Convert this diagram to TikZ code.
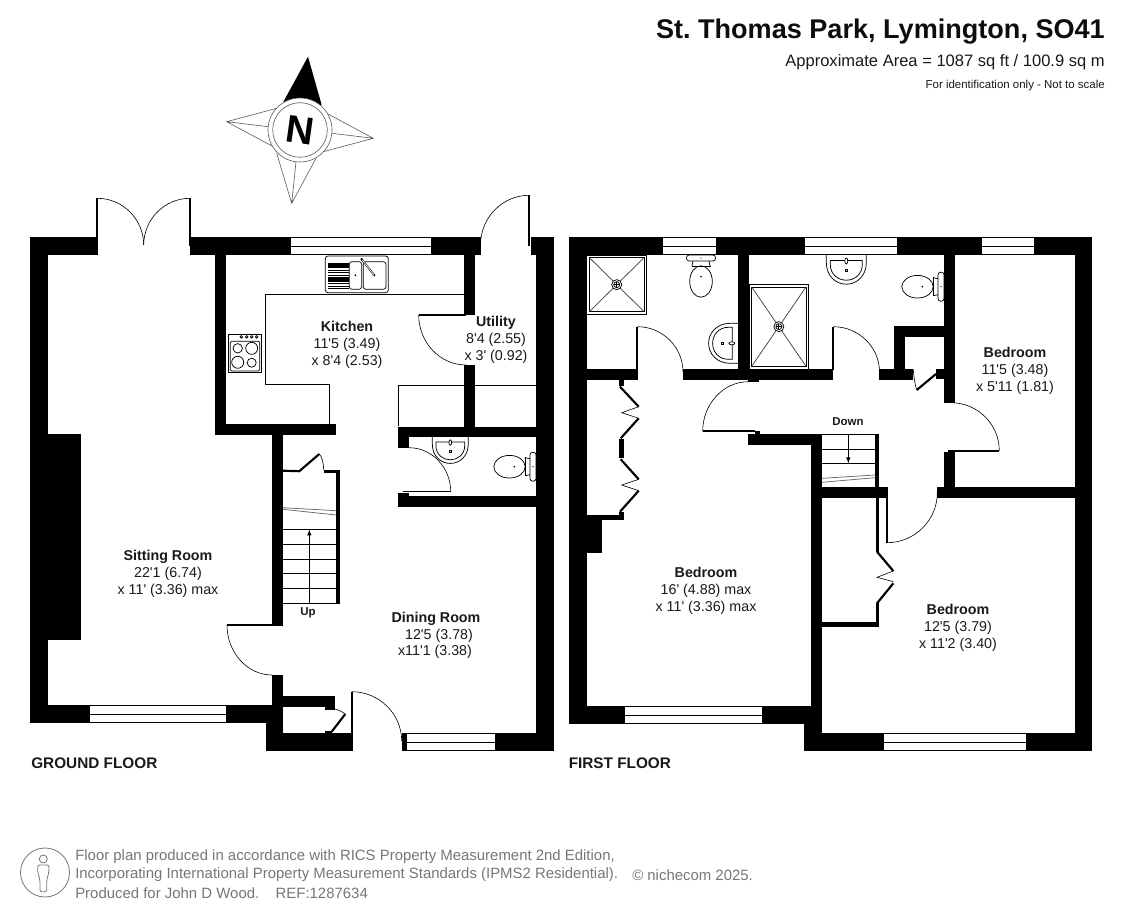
\documentclass[tikz,border=0pt]{standalone}
\usepackage{fontspec}
\setmainfont{Liberation Sans}
\newfontfamily\plainsans{Liberation Sans}
\usetikzlibrary{calc}
\definecolor{footgray}{HTML}{767676}
\tikzset{
	wall/.style={fill=black},
	leaf/.style={line width=1.6pt},
	swingline/.style={line width=0.45pt},
	fixture/.style={line width=0.55pt},
	room/.style={font=\plainsans\fontsize{10.7}{12.6}\selectfont, align=center, text=black!90},
	tag/.style={font=\fontsize{8.6}{10}\selectfont\bfseries, text=black!90},
	floorname/.style={font=\fontsize{11.5}{13}\selectfont\bfseries, anchor=west, inner xsep=0pt, text=black!90},
	foot/.style={font=\fontsize{11.2}{13}\selectfont, anchor=west, inner xsep=0pt, text=footgray},
}
% quarter swing of a door: free end, corner of the tangents, end at the jamb
\def\swing(#1)(#2)(#3){\draw[swingline] (#1) .. controls ($(#1)!0.55!(#2)$) and ($(#3)!0.55!(#2)$) .. (#3);}
% window as three lines in a gap of the wall
\def\windowgap(#1:#2:#3:#4){\draw[fixture] (#1,#3) -- (#2,#3) (#1,{(#3+#4)/2}) -- (#2,{(#3+#4)/2}) (#1,#4) -- (#2,#4);}
\def\showertray(#1,#2)(#3,#4){
	\coordinate (drain) at ({(#1+#3)/2},{(#2+#4)/2});
	\draw[fixture] (#1,#2) rectangle (#3,#4);
	\draw[fixture] ({#1+2.7},{#2+2.7}) rectangle ({#3-2.7},{#4-2.7});
	\draw[fixture,black!75] ({#1+2.7},{#2+2.7}) -- (drain) -- ({#3-2.7},{#4-2.7}) ({#3-2.7},{#2+2.7}) -- (drain) -- ({#1+2.7},{#4-2.7});
	\draw[fixture,fill=white] (drain) circle (5);
	\draw[fixture] (drain) circle (3);
	\draw[fixture] ($(drain)+(-3,0)$) -- ($(drain)+(3,0)$) ($(drain)+(0,-3)$) -- ($(drain)+(0,3)$);
}
\def\wctoilet(#1)[#2]{
	\begin{scope}[shift={(#1)},rotate=#2]
		\draw[fixture,rounded corners=2pt] (-6,-14.5) rectangle (0,14.5);
		\draw[fixture] (-26.5,0) ellipse (15.7 and 11.3);
		\draw[fixture] (-11,-9.5) -- (-11,9.5);
		\draw[fixture] (-11,-9) -- (-6,-8) (-11,9) -- (-6,8);
		\fill (-21.7,0) circle (0.9);
		\fill (-3,0) circle (0.7);
	\end{scope}
}
\def\washbasin(#1)[#2][#3]{
	\begin{scope}[shift={(#1)},rotate=#2,scale=#3]
		\draw[fixture] (-20,0) -- (-20,8) .. controls (-20,22) and (-10,29.7) .. (0,29.7) .. controls (10,29.7) and (20,22) .. (20,8) -- (20,0);
		\draw[fixture] (-16,6) -- (16,6) -- (16,10) .. controls (16,20) and (8,25.7) .. (0,25.7) .. controls (-8,25.7) and (-16,20) .. (-16,10) -- cycle;
		\draw[fixture,fill=white] (0,6.5) ellipse (1.5 and 3);
		\draw[fixture] (-1.2,14.8) rectangle (1.2,17.2);
	\end{scope}
}
\begin{document}
\frenchspacing
\begin{tikzpicture}[x=0.75pt,y=-0.75pt]
	\useasboundingbox (0,0) rectangle (1123,916);
	%%%%% GROUND FLOOR %%%%%

	% doors
	\swing(97.3,198.3)(143.7,198.3)(143.7,245);
	\swing(190,198.3)(143.7,198.3)(143.7,245);
	\swing(529,195.3)(480.5,195.3)(480.5,245);
	\swing(418.7,315)(418.7,365)(466,365);
	\swing(227,625)(227,675)(272,675);
	\swing(409,447.7)(450.7,447.7)(450.7,491.7);
	\swing(351.7,691.7)(401.7,691.7)(401.7,741);
	\swing(319.3,454)(323.7,458)(323.7,470);
	\swing(345.3,714)(340,710)(335,709);
	\draw[leaf] (97.3,198.3) -- (97.3,246) (190,198.3) -- (190,246);
	\draw[leaf] (529,195.3) -- (529,246);
	\draw[leaf] (418.7,315) -- (466,315);
	\draw[leaf] (227,625) -- (274,625);
	\draw[line width=1pt] (403,491.7) -- (450.7,491.7);
	\draw[line width=1.2pt] (351.7,691.7) -- (351.7,734);

	% walls
	\fill[wall] (30,237) rectangle (98,255);
	\fill[wall] (190,237) rectangle (291,255);
	\fill[wall] (431,237) rectangle (481,255);
	\fill[wall] (531,237) rectangle (554,255);
	\fill[wall] (30,237) rectangle (48,723);
	\fill[wall] (48,434) rectangle (81,640);
	\fill[wall] (536,237) rectangle (554,751);
	\fill[wall] (30,705) rectangle (90,723);
	\fill[wall] (226,705) rectangle (273,723);
	\fill[wall] (266,705) rectangle (283,751);
	\fill[wall] (266,733) rectangle (353,751);
	\fill[wall] (272,675) rectangle (283,706);
	\fill[wall] (283,696) rectangle (335,707);
	\fill[wall] (325,707) rectangle (335,709.5);
	\fill[wall] (325,731) rectangle (332,733);
	\fill[wall] (402,733) rectangle (407,751);
	\fill[wall] (495,733) rectangle (536,751);
	\fill[wall] (215,255) rectangle (226,435);
	\fill[wall] (215,424) rectangle (336,435);
	\fill[wall] (272,435) rectangle (283,626);
	\fill[wall] (464,255) rectangle (475,315);
	\fill[wall] (464,365) rectangle (475,427);
	\fill[wall] (398,426.7) rectangle (536,436.7);
	\fill[wall] (398,436.7) rectangle (409,447.7);
	\fill[wall] (398,492.7) rectangle (409,497);
	\fill[wall] (398,496) rectangle (536,506.7);

	% windows
	\windowgap(291:431:237.5:254.5);
	\windowgap(90:226:705.5:722.5);
	\windowgap(407:495:733.5:750.5);

	% worktops
	\draw[fixture] (265.3,384.3) -- (265.3,294.3) -- (464,294.3);
	\draw[fixture] (265.3,384.3) -- (329.7,384.3) -- (329.7,424);
	\draw[fixture] (398.3,426) -- (398.3,385.3) -- (536,385.3);

	% sink
	\draw[fixture,rounded corners=2pt] (325.3,256) rectangle (388.3,292.7);
	\draw[fixture,rounded corners=2pt] (349.3,261.7) rectangle (361.7,289.3);
	\draw[fixture,rounded corners=2pt] (363.3,261.7) rectangle (386,289.3);
	\fill (328.3,262.7) rectangle (348.7,268.3);
	\fill (328.3,277.3) rectangle (348.7,281.7);
	\foreach \drainer in {270,272.7,275.3,283.7,286,288.3}
		\draw[line width=0.4pt] (328.3,\drainer) -- (348.7,\drainer);
	\draw[line width=1.3pt] (361.7,259.3) -- (374.3,275.3);
	\draw[line width=0.5pt,white] (361.7,259.3) -- (374.3,275.3);
	\fill (355.3,275.3) circle (1);
	\fill (374.3,275.3) circle (1);
	\fill (361.7,259.3) circle (1.3);

	% cooker
	\draw[fixture] (228.3,334) rectangle (261.7,372.3);
	\draw[fixture,rounded corners=1pt] (230.3,341.3) rectangle (259.7,371);
	\foreach \knob in {241.3,246.7,251.7,256.7}
		\draw[fixture] (\knob,336.9) circle (1.3);
	\draw[fixture] (237.7,348.3) circle (4.7);
	\draw[fixture] (251.7,348.3) circle (6);
	\draw[fixture] (237.7,362.3) circle (6);
	\draw[fixture] (251.7,362.7) circle (4.5);

	% stairs up
	\foreach \tread in {529.3,544.3,559.3,573.3,588.3}
		\draw[fixture] (283,\tread) -- (337,\tread);
	\draw[line width=1.2pt] (283,603.3) -- (340,603.3);
	\fill[wall] (336,469.5) rectangle (340,604);
	\draw[leaf] (283,470.7) -- (299.3,471.2) -- (319.3,454);
	\fill[wall] (323.7,469.5) rectangle (340,472.5);
	\draw[fixture,black!60] (283,507.7) -- (336,510.7) (283,509.3) -- (336,515);
	\draw[fixture,-latex] (309.3,603.3) -- (309.3,529.5);
	\draw[leaf] (331.7,731.7) -- (345.3,714);

	% cloakroom
	\washbasin(450.3,436.7)[0][0.9];
	\wctoilet(536,466.7)[0];

	%%%%% FIRST FLOOR %%%%%

	% doors
	\swing(637.5,326.7)(683,326.7)(683,372);
	\swing(833.3,326.7)(879.5,326.7)(879.5,372);
	\swing(748.3,381.7)(702.7,381.7)(702.7,431.3);
	\swing(999.3,450.7)(999.3,402.7)(951,402.7);
	\swing(887,542.7)(937.3,542.7)(937.3,492.7);
	\swing(916.7,390)(914,382)(913.3,369.3);
	\draw[leaf] (637,326.7) -- (637,370);
	\draw[leaf] (833.3,326.7) -- (833.3,370);
	\draw[leaf] (702.7,431.3) -- (755,431.3);
	\draw[line width=1.2pt] (948,450.7) -- (999.3,450.7);
	\draw[line width=1.2pt] (887,498) -- (887,542.7);
	\draw[leaf] (916.7,390) -- (936,374);

	% walls
	\fill[wall] (569,237) rectangle (663,255);
	\fill[wall] (716,237) rectangle (805,255);
	\fill[wall] (897,237) rectangle (982,255);
	\fill[wall] (1034,237) rectangle (1092,255);
	\fill[wall] (569,237) rectangle (587,724);
	\fill[wall] (1075,237) rectangle (1092,751);
	\fill[wall] (569,706) rectangle (625,724);
	\fill[wall] (762,706) rectangle (811,724);
	\fill[wall] (804,724) rectangle (822,751);
	\fill[wall] (804,733.3) rectangle (884,751);
	\fill[wall] (1026,733.3) rectangle (1075,751);
	\fill[wall] (811,434) rectangle (822,734);
	\fill[wall] (748,434) rectangle (822,445);
	\fill[wall] (755,431) rectangle (760,434);
	\fill[wall] (738.3,255) rectangle (749,380);
	\fill[wall] (587,369) rectangle (637.5,380);
	\fill[wall] (682.7,369) rectangle (833.3,380);
	\fill[wall] (748.3,380) rectangle (759,382);
	\fill[wall] (879.3,369) rectangle (913.3,380);
	\fill[wall] (894,326) rectangle (905,369);
	\fill[wall] (894,326) rectangle (944,336.7);
	\fill[wall] (936,369) rectangle (944,379.3);
	\fill[wall] (944,255) rectangle (955,402.7);
	\fill[wall] (944,451.7) rectangle (955,487);
	\fill[wall] (937.3,486.7) rectangle (1075,498.3);
	\fill[wall] (822,487.3) rectangle (888.3,498.3);
	\fill[wall] (875,434) rectangle (879,487.3);
	\fill[wall] (587,515) rectangle (624,520);
	\fill[wall] (587,520) rectangle (602,553.3);
	\fill[wall] (822,622.3) rectangle (878.5,627);
	\fill[wall] (876,498) rectangle (878.5,551.7);
	\fill[wall] (876,603.3) rectangle (878.5,627);
	\fill[wall] (619.3,380) rectangle (624,385.7);
	\fill[wall] (619.3,439.3) rectangle (624,458.3);
	\fill[wall] (619.3,511.7) rectangle (624,520);

	% windows
	\windowgap(663:716:237.5:254.5);
	\windowgap(805:897:237.5:254.5);
	\windowgap(982:1034:237.5:254.5);
	\windowgap(625:762:706.5:723.5);
	\windowgap(884:1026:733.8:750.5);

	% wardrobe doors
	\draw[leaf] (620,386.7) -- (638.7,406.7);
	\draw[swingline] (638.7,406.7) -- (621.7,412.7) -- (638.7,418.3);
	\draw[leaf] (638.7,418.3) -- (620.7,438.3);
	\draw[leaf] (620.7,459.3) -- (638.7,479.3);
	\draw[swingline] (638.7,479.3) -- (621.7,485) -- (638.7,490.7);
	\draw[leaf] (638.7,490.7) -- (620,511.7);
	\draw[leaf] (877,551.7) -- (893.3,571);
	\draw[swingline] (893.3,571) -- (877,577.3) -- (893.3,581.7);
	\draw[leaf] (893.3,583.3) -- (877,603.3);

	% stairs down
	\draw[fixture] (822,434) -- (875,434);
	\draw[fixture] (822,449.3) -- (875,449.3) (822,463.3) -- (875,463.3);
	\draw[fixture,black!60] (822,478.3) -- (875,475) (822,482.3) -- (875,477.7);
	\draw[fixture,-latex] (848.3,434) -- (848.3,463.3);

	% bathrooms
	\showertray(586.7,255)(646.7,314.3);
	\showertray(749,284.3)(808.7,369);
	\wctoilet(701,255)[90];
	\wctoilet(944,286.7)[0];
	\washbasin(738.3,343.3)[-90][1];
	\washbasin(846.3,254.5)[0][1];

	%%%%% LABELS %%%%%

	\node[room] (kitchen) at (347,345) {\textbf{Kitchen}\\11'5 (3.49)\\x 8'4 (2.53)};
	\node[room] (utility) at (496,340) {\textbf{Utility}\\8'4 (2.55)\\x 3' (0.92)};
	\node[room] (sitting) at (168,574) {\textbf{Sitting Room}\\22'1 (6.74)\\x 11' (3.36) max};
	\node[room] (dininghead) at (436,619) {\textbf{Dining Room}};
	\node[room] (diningone) at (439,636) {12'5 (3.78)};
	\node[room] (diningtwo) at (435,652) {x11'1 (3.38)};
	\node[room] (bedlarge) at (706,591) {\textbf{Bedroom}\\16' (4.88) max\\x 11' (3.36) max};
	\node[room] (bedfront) at (958,628) {\textbf{Bedroom}\\12'5 (3.79)\\x 11'2 (3.40)};
	\node[room] (bedrear) at (1015,371) {\textbf{Bedroom}\\11'5 (3.48)\\x 5'11 (1.81)};
	\node[tag] (stairup) at (308,612.5) {Up};
	\node[tag] (stairdown) at (848,421.5) {Down};
	\node[floorname] (ground) at (31,763.5) {GROUND FLOOR};
	\node[floorname] (first) at (568.5,763.5) {FIRST FLOOR};

	\node[font=\fontsize{20.3}{24}\selectfont\bfseries, anchor=east, inner xsep=0pt, text=black!95] (title) at (1105,31.5) {St. Thomas Park, Lymington, SO41};
	\node[font=\fontsize{12.4}{14}\selectfont, anchor=east, inner xsep=0pt, text=black!90] (area) at (1105,62.5) {Approximate Area = 1087 sq ft / 100.9 sq m};
	\node[font=\fontsize{8.6}{10}\selectfont, anchor=east, inner xsep=0pt, text=black!90] (scalenote) at (1105,85.5) {For identification only - Not to scale};

	%%%%% COMPASS %%%%%

	\draw[swingline,black!65] (276.7,108.3) -- (226.7,121.7) -- (273.3,146.7) (226.7,121.7) -- (268.3,126.7);
	\draw[swingline,black!65] (326.7,113.3) -- (373.3,138.3) -- (323.3,151.7) (373.3,138.3) -- (331.7,133.3);
	\draw[swingline,black!65] (276.7,153.3) -- (291.7,203.3) -- (316,158.3) (291.7,203.3) -- (296,161.7);
	\fill (283.3,102) -- (308,56.7) -- (321.7,105) -- cycle;
	\draw[swingline,black!65,fill=white] (300,130) circle (32);
	\draw[swingline,black!65] (300,130) circle (27.3);
	\node[font=\fontsize{29}{30}\selectfont\bfseries, rotate=-8] (north) at (300,130) {N};

	%%%%% FOOTER %%%%%

	\draw[line width=0.6pt,footgray] (45,872.5) circle (24.5);
	\draw[line width=0.6pt,footgray] (43.3,859) circle (4);
	\draw[line width=0.6pt,footgray,rounded corners=1.5pt] (40,891.7) -- (40,880) -- (37.7,872) -- (37.7,865) -- (49,865) -- (49,872) -- (46.7,880) -- (46.7,891.7) -- cycle;
	\node[foot] (footone) at (75,857) {Floor plan produced in accordance with RICS Property Measurement 2nd Edition,};
	\node[foot] (foottwo) at (75,875) {Incorporating International Property Measurement Standards (IPMS2 Residential).};
	\node[foot] (footthree) at (75,893) {Produced for John D Wood.\hspace{1.1em}REF:1287634};
	\node[foot] (footcopy) at (632,875) {© nichecom 2025.};
\end{tikzpicture}
\end{document}
